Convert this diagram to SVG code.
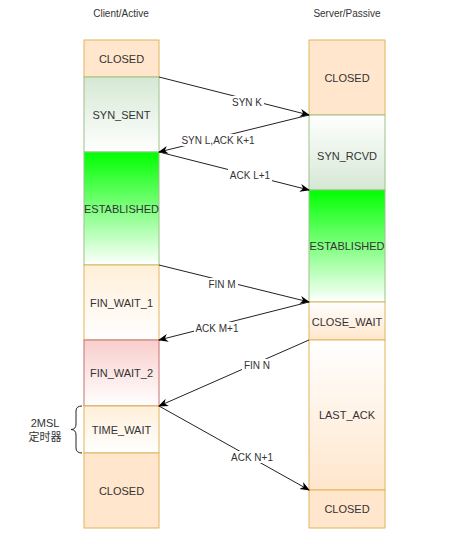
<svg xmlns="http://www.w3.org/2000/svg" width="463" height="533" viewBox="0 0 463 533">
<defs>
<linearGradient id="gPeach" x1="0" y1="0" x2="0" y2="1"><stop offset="0" stop-color="#ffe6cc"/><stop offset="1" stop-color="#ffe6cc"/></linearGradient>
<linearGradient id="gGreenDown" x1="0" y1="0" x2="0" y2="1"><stop offset="0" stop-color="#d5e8d4"/><stop offset="1" stop-color="#ffffff"/></linearGradient>
<linearGradient id="gGreenUp" x1="0" y1="0" x2="0" y2="1"><stop offset="0" stop-color="#ffffff"/><stop offset="1" stop-color="#d5e8d4"/></linearGradient>
<linearGradient id="gEst" x1="0" y1="0" x2="0" y2="1"><stop offset="0" stop-color="#00ff00"/><stop offset="1" stop-color="#ffffff"/></linearGradient>
<linearGradient id="gCreamDown" x1="0" y1="0" x2="0" y2="1"><stop offset="0" stop-color="#ffefd9"/><stop offset="1" stop-color="#ffffff"/></linearGradient>
<linearGradient id="gPeachUp" x1="0" y1="0" x2="0" y2="1"><stop offset="0" stop-color="#ffffff"/><stop offset="1" stop-color="#ffe6cc"/></linearGradient>
<linearGradient id="gRed" x1="0" y1="0" x2="0" y2="1"><stop offset="0" stop-color="#f8cecc"/><stop offset="1" stop-color="#ffffff"/></linearGradient>
<marker id="arr" viewBox="0 0 10 10" refX="9" refY="5" markerWidth="10" markerHeight="10" markerUnits="userSpaceOnUse" orient="auto">
<path d="M0,1 L10,5 L0,9 L3,5 Z" fill="#000"/>
</marker>
</defs>
<style>
text{font-family:"Liberation Sans",Arial,sans-serif;font-size:11px;fill:#333;}
.t{text-anchor:middle;dominant-baseline:central;}
.title{font-size:10px;}
.o{stroke:#e2b45a;stroke-width:1;}
.g{stroke:#9cc28a;stroke-width:1;}
.r{stroke:#c8716c;stroke-width:1;}
.c{stroke:#222;stroke-width:1;fill:none;marker-end:url(#arr);}
.lbl{font-size:10px;text-anchor:middle;dominant-baseline:central;}
</style>
<rect width="463" height="533" fill="#fff"/>
<text class="t title" x="121" y="13">Client/Active</text>
<text class="t title" x="347" y="13">Server/Passive</text>

<g id="c-closed"><rect class="o" x="84" y="40" width="75" height="37" fill="#ffe6cc"/><text class="t" x="121.5" y="58.5">CLOSED</text></g>
<g id="c-synsent"><rect class="g" x="84" y="77" width="75" height="75" fill="url(#gGreenDown)"/><text class="t" x="121.5" y="114.5">SYN_SENT</text></g>
<g id="c-est"><rect class="g" x="84" y="152" width="75" height="113" fill="url(#gEst)"/><text class="t" x="121.5" y="209">ESTABLISHED</text></g>
<g id="c-fw1"><rect class="o" x="84" y="265" width="75" height="75" fill="url(#gCreamDown)"/><text class="t" x="121.5" y="302.5">FIN_WAIT_1</text></g>
<g id="c-fw2"><rect class="r" x="84" y="340" width="75" height="66" fill="url(#gRed)"/><text class="t" x="121.5" y="373">FIN_WAIT_2</text></g>
<g id="c-tw"><rect class="o" x="84" y="406" width="75" height="47" fill="url(#gCreamDown)"/><text class="t" x="121.5" y="429.5">TIME_WAIT</text></g>
<g id="c-closed2"><rect class="o" x="84" y="453" width="75" height="75" fill="#ffe6cc"/><text class="t" x="121.5" y="490.5">CLOSED</text></g>

<g id="s-closed"><rect class="o" x="309" y="40" width="76" height="75" fill="#ffe6cc"/><text class="t" x="347" y="77.5">CLOSED</text></g>
<g id="s-synrcvd"><rect class="g" x="309" y="115" width="76" height="75" fill="url(#gGreenUp)"/><text class="t" x="347" y="156">SYN_RCVD</text></g>
<g id="s-est"><rect class="g" x="309" y="190" width="76" height="112" fill="url(#gEst)"/><text class="t" x="347" y="246">ESTABLISHED</text></g>
<g id="s-cw"><rect class="o" x="309" y="302" width="76" height="38" fill="url(#gPeachUp)"/><text class="t" x="347" y="322">CLOSE_WAIT</text></g>
<g id="s-la"><rect class="o" x="309" y="340" width="76" height="150" fill="url(#gPeachUp)"/><text class="t" x="347" y="415">LAST_ACK</text></g>
<g id="s-closed2"><rect class="o" x="309" y="490" width="76" height="38" fill="#ffe6cc"/><text class="t" x="347" y="509">CLOSED</text></g>

<g id="timer">
<path d="M82,406 Q76,406 76,411 L76,424 Q76,429.5 71,429.5 Q76,429.5 76,435 L76,448 Q76,453 82,453" fill="none" stroke="#222" stroke-width="1"/>
<text class="t" x="45" y="423">2MSL</text>
<text class="t" x="45" y="437" style="font-family:'Liberation Sans','Noto Sans CJK SC',sans-serif">定时器</text>
</g>

<g id="connectors">
<line class="c" x1="159" y1="77" x2="309" y2="115"/>
<line class="c" x1="309" y1="115" x2="159" y2="152"/>
<line class="c" x1="159" y1="152" x2="309" y2="190"/>
<line class="c" x1="159" y1="265" x2="309" y2="302"/>
<line class="c" x1="309" y1="302" x2="159" y2="340"/>
<line class="c" x1="309" y1="340" x2="159" y2="406"/>
<line class="c" x1="159" y1="406" x2="309" y2="490"/>
<g>
<rect x="230" y="96" width="34" height="12" fill="#fff"/><text class="lbl" x="247" y="102">SYN K</text>
<rect x="180" y="134" width="76" height="12" fill="#fff"/><text class="lbl" x="218" y="140">SYN L,ACK K+1</text>
<rect x="228" y="169" width="44" height="12" fill="#fff"/><text class="lbl" x="250" y="175">ACK L+1</text>
<rect x="206" y="278" width="32" height="12" fill="#fff"/><text class="lbl" x="222" y="284">FIN M</text>
<rect x="194" y="322" width="46" height="12" fill="#fff"/><text class="lbl" x="217" y="328">ACK M+1</text>
<rect x="242" y="359" width="30" height="12" fill="#fff"/><text class="lbl" x="257" y="365">FIN N</text>
<rect x="229" y="451" width="46" height="12" fill="#fff"/><text class="lbl" x="252" y="457">ACK N+1</text>
</g>
</g>
</svg>
